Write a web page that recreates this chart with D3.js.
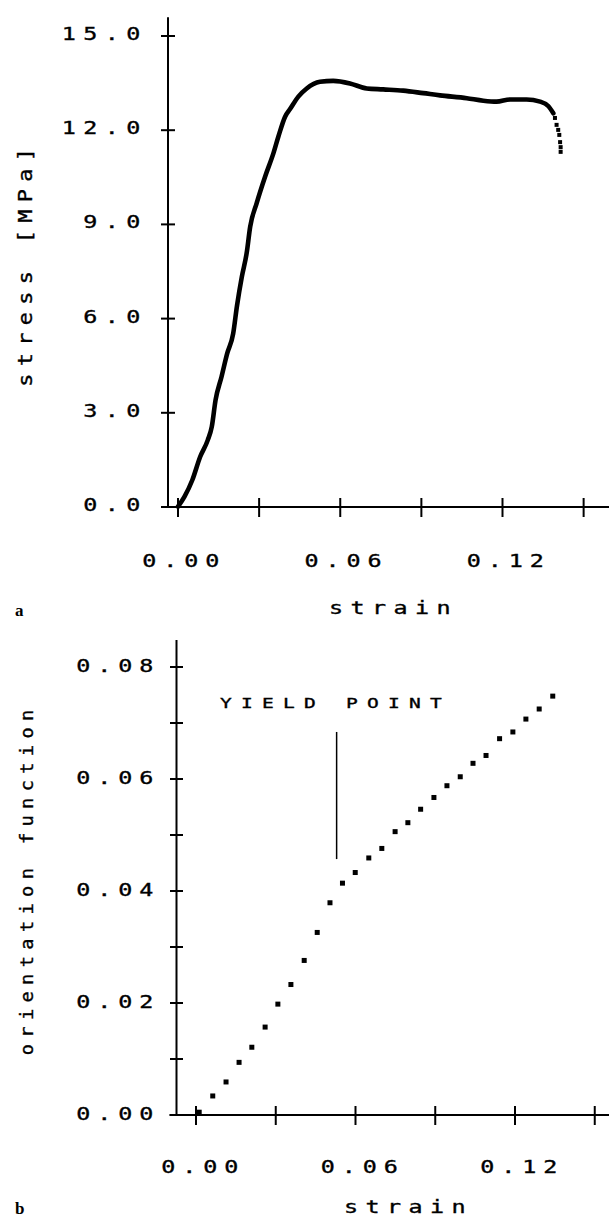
<!DOCTYPE html>
<html>
<head>
<meta charset="utf-8">
<script src="https://cdn.jsdelivr.net/npm/d3@7"></script>
<style>
  body { margin: 0; background: #fff; }
</style>
</head>
<body>
<div id="chart"></div>
<script>
// panel a: stress-strain curve
const strainA = [0.0000, 0.0024, 0.0053, 0.0082, 0.0110, 0.0125, 0.0139, 0.0161, 0.0182, 0.0204,
  0.0218, 0.0236, 0.0254, 0.0267, 0.0291, 0.0322, 0.0353, 0.0371, 0.0396, 0.0415, 0.0445, 0.0476,
  0.0525, 0.0574, 0.0636, 0.0698, 0.0759, 0.0833, 0.0907, 0.0969, 0.1068, 0.1129, 0.1178, 0.1228,
  0.1289, 0.1339, 0.1369, 0.1388];
const stressA = [0.01, 0.33, 0.86, 1.60, 2.13, 2.56, 3.41, 4.15, 4.89, 5.52,
  6.40, 7.33, 8.09, 8.93, 9.68, 10.52, 11.27, 11.79, 12.43, 12.68, 13.07, 13.33,
  13.54, 13.57, 13.49, 13.33, 13.30, 13.26, 13.18, 13.11, 13.02, 12.94, 12.91, 12.98,
  12.98, 12.91, 12.77, 12.54];
// sparse points at the end of the test (fracture)
const tailStrain = [0.1394, 0.1400, 0.1406, 0.1410, 0.1413, 0.1415, 0.1415];
const tailStress = [12.39, 12.17, 12.01, 11.85, 11.62, 11.46, 11.31];

const stressTicks = [0, 3, 6, 9, 12, 15];
const strainTicks = [0, 0.03, 0.06, 0.09, 0.12, 0.15];
const strainLabels = [0, 0.06, 0.12];

// panel b: orientation function
const strainB = [0.0012, 0.0063, 0.0113, 0.0162, 0.0210, 0.0260, 0.0308, 0.0357, 0.0407, 0.0456,
  0.0504, 0.0551, 0.0599, 0.0650, 0.0699, 0.0749, 0.0797, 0.0845, 0.0895, 0.0944,
  0.0994, 0.1042, 0.1091, 0.1142, 0.1192, 0.1241, 0.1291, 0.1342];
const orientB = [0.0005, 0.0034, 0.0059, 0.0094, 0.0121, 0.0157, 0.0198, 0.0233, 0.0276, 0.0326,
  0.0379, 0.0414, 0.0433, 0.0459, 0.0476, 0.0506, 0.0522, 0.0546, 0.0567, 0.0588,
  0.0604, 0.0628, 0.0642, 0.0672, 0.0684, 0.0707, 0.0725, 0.0748];
const orientTicks = [0, 0.01, 0.02, 0.03, 0.04, 0.05, 0.06, 0.07, 0.08];
const orientLabels = [0, 0.02, 0.04, 0.06, 0.08];
const yieldStrain = 0.0529;
const yieldSpan = [0.0457, 0.0684];

const W = 609, H = 1220;
const svg = d3.select("#chart").append("svg")
  .attr("width", W).attr("height", H)
  .style("background", "#fff");

const FONT = "'DejaVu Sans Mono', 'Liberation Mono', monospace";

// wide, spaced plotter-style text
const spaced = (g, txt, x, y, { size = 18, adv = 21, sx = 1.3, anchor = "start", rot = 0 } = {}) => {
  const a0 = size * 0.602 * sx;
  const w = (txt.length - 1) * adv + a0 * 0.9;
  const off = anchor === "end" ? -w : anchor === "middle" ? -w / 2 : 0;
  g.append("text")
    .attr("transform", `translate(${x},${y}) rotate(${rot}) scale(${sx},1)`)
    .attr("x", off / sx)
    .attr("font-family", FONT)
    .attr("font-size", size)
    .attr("letter-spacing", (adv - a0) / sx)
    .attr("fill", "#000")
    .attr("stroke", "#000")
    .attr("stroke-width", 0.35)
    .text(txt);
};

// ---------- panel a ----------
const xA = d3.scaleLinear().domain([0, 0.12]).range([178, 502.5]);
const yA = d3.scaleLinear().domain([0, 15]).range([507, 36]);
const gA = svg.append("g");

gA.append("line").attr("x1", xA(-0.006)).attr("x2", W).attr("y1", yA(0)).attr("y2", yA(0))
  .attr("stroke", "#000").attr("stroke-width", 2.2);
gA.append("line").attr("x1", 168).attr("x2", 168).attr("y1", yA(0)).attr("y2", yA(15.6))
  .attr("stroke", "#000").attr("stroke-width", 2);

gA.selectAll(".yt").data(stressTicks).join("line")
  .attr("x1", 161).attr("x2", 175).attr("y1", d => yA(d)).attr("y2", d => yA(d))
  .attr("stroke", "#000").attr("stroke-width", 2);
gA.selectAll(".xt").data(strainTicks).join("line")
  .attr("x1", d => xA(d)).attr("x2", d => xA(d)).attr("y1", yA(0) - 9).attr("y2", yA(0) + 10)
  .attr("stroke", "#000").attr("stroke-width", 2);

stressTicks.forEach(d => spaced(gA, d3.format(".1f")(d), 139, yA(d) + 4, { adv: 21.5, anchor: "end" }));
strainLabels.forEach(d => spaced(gA, d3.format(".2f")(d), xA(d) + 2, 567, { adv: 21, anchor: "middle" }));
spaced(gA, "strain", 389, 614, { adv: 21.5, anchor: "middle" });
spaced(gA, "stress [MPa]", 32, 268, { size: 19, adv: 20.5, sx: 1.15, anchor: "middle", rot: -90 });

const lineA = d3.line().x(d => xA(d[0])).y(d => yA(d[1])).curve(d3.curveMonotoneX);
gA.append("path")
  .datum(d3.zip(strainA, stressA))
  .attr("d", lineA)
  .attr("fill", "none").attr("stroke", "#000").attr("stroke-width", 4.6)
  .attr("stroke-linejoin", "round").attr("stroke-linecap", "round");
gA.selectAll(".tail").data(d3.zip(tailStrain, tailStress)).join("rect")
  .attr("x", d => xA(d[0]) - 2).attr("y", d => yA(d[1]) - 2)
  .attr("width", 4).attr("height", 4).attr("fill", "#000");

svg.append("text").attr("x", 15).attr("y", 616)
  .attr("font-family", "'Liberation Serif', 'DejaVu Serif', serif").attr("font-weight", "bold")
  .attr("font-size", 17).text("a");

// ---------- panel b ----------
const xB = d3.scaleLinear().domain([0, 0.12]).range([196, 515]);
const yB = d3.scaleLinear().domain([0, 0.08]).range([1115, 667]);
const gB = svg.append("g");

gB.append("line").attr("x1", xB(-0.010)).attr("x2", W).attr("y1", yB(0)).attr("y2", yB(0))
  .attr("stroke", "#000").attr("stroke-width", 2.2);
gB.append("line").attr("x1", 176.5).attr("x2", 176.5).attr("y1", yB(0)).attr("y2", yB(0.0848))
  .attr("stroke", "#000").attr("stroke-width", 2);

gB.selectAll(".yt").data(orientTicks).join("line")
  .attr("x1", 170).attr("x2", 183).attr("y1", d => yB(d)).attr("y2", d => yB(d))
  .attr("stroke", "#000").attr("stroke-width", 2);
gB.selectAll(".xt").data(strainTicks).join("line")
  .attr("x1", d => xB(d)).attr("x2", d => xB(d)).attr("y1", yB(0) - 9).attr("y2", yB(0) + 10)
  .attr("stroke", "#000").attr("stroke-width", 2);

orientLabels.forEach(d => spaced(gB, d3.format(".2f")(d), 152, yB(d) + 5, { adv: 21, anchor: "end" }));
strainLabels.forEach(d => spaced(gB, d3.format(".2f")(d), xB(d) + 3, 1173, { adv: 21, anchor: "middle" }));
spaced(gB, "strain", 404, 1213, { adv: 21.5, anchor: "middle" });
spaced(gB, "orientation function", 33, 883, { size: 17, adv: 17.6, sx: 1.1, anchor: "middle", rot: -90 });

spaced(gB, "YIELD POINT", 220, 708, { size: 14.5, adv: 21, sx: 1.35 });
gB.append("line")
  .attr("x1", xB(yieldStrain)).attr("x2", xB(yieldStrain))
  .attr("y1", yB(yieldSpan[1])).attr("y2", yB(yieldSpan[0]))
  .attr("stroke", "#000").attr("stroke-width", 1.5);

gB.selectAll(".pt").data(d3.zip(strainB, orientB)).join("rect")
  .attr("x", d => xB(d[0]) - 2.5).attr("y", d => yB(d[1]) - 2.5)
  .attr("width", 5).attr("height", 5).attr("fill", "#000");

svg.append("text").attr("x", 15).attr("y", 1214)
  .attr("font-family", "'Liberation Serif', 'DejaVu Serif', serif").attr("font-weight", "bold")
  .attr("font-size", 17).text("b");
</script>
</body>
</html>
